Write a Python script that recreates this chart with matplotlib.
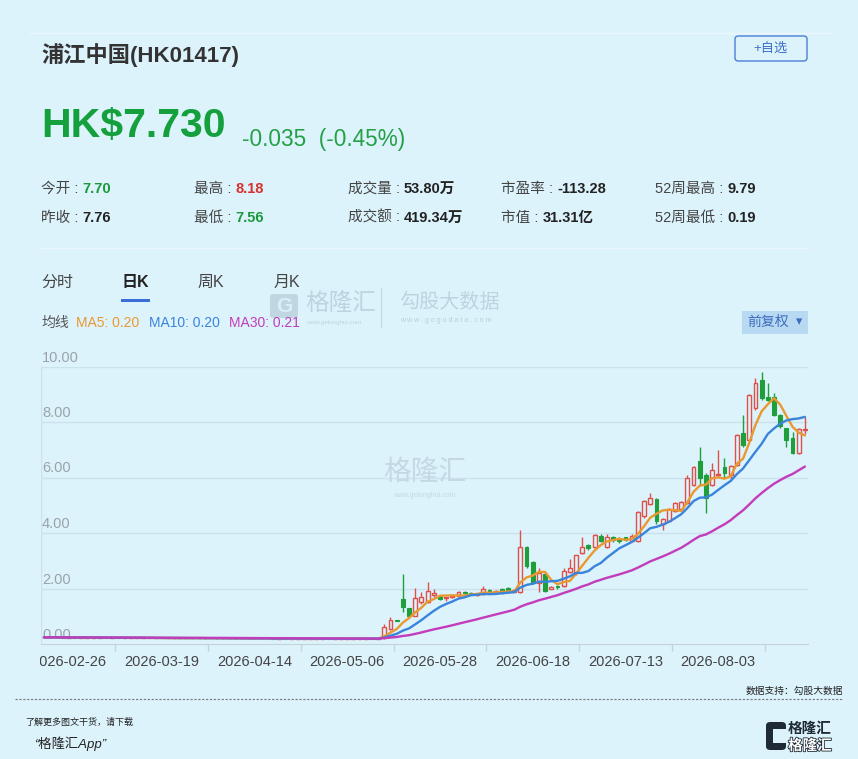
import matplotlib
matplotlib.use("Agg")
import matplotlib.pyplot as plt
from matplotlib.patches import FancyBboxPatch, Rectangle
from matplotlib.lines import Line2D
from matplotlib.transforms import Bbox, blended_transform_factory
import matplotlib.patheffects as pe
import numpy as np
import pandas as pd

plt.rcParams['font.family'] = ['Liberation Sans', 'Noto Sans CJK SC', 'DejaVu Sans']

# ---- data (daily candles) ----
open_ = [0.24, 0.24, 0.24, 0.24, 0.23, 0.24, 0.23, 0.23, 0.23, 0.23,
         0.23, 0.22, 0.23, 0.22, 0.22, 0.22, 0.22, 0.22, 0.21, 0.22,
         0.21, 0.21, 0.21, 0.21, 0.21, 0.21, 0.21, 0.20, 0.21, 0.20,
         0.20, 0.20, 0.20, 0.20, 0.20, 0.20, 0.20, 0.20, 0.19, 0.20,
         0.19, 0.19, 0.19, 0.19, 0.19, 0.19, 0.20, 0.19, 0.19, 0.19,
         0.19, 0.19, 0.19, 0.20, 0.19,
         0.26, 0.53, 0.84, 1.61, 1.29, 1.01, 1.50, 1.52, 1.75, 1.72,
         1.65, 1.68, 1.72, 1.88, 1.84, 1.76, 1.80, 1.94, 1.82, 1.98,
         2.02, 1.88, 1.88, 3.50, 2.97, 2.19, 2.52, 2.00, 2.10, 2.08,
         2.58, 2.55, 3.28, 3.58, 3.50, 3.90, 3.48, 3.86, 3.80, 3.84,
         3.72, 3.71, 4.60, 5.05, 5.22, 4.32, 4.45, 4.78, 4.86, 5.07,
         5.72, 6.59, 6.09, 5.72, 6.10, 6.39, 6.10, 6.45, 7.59, 7.35,
         8.50, 9.50, 8.90, 8.90, 8.25, 7.77, 7.44, 6.88, 7.70]
high_ = [0.25, 0.25, 0.25, 0.25, 0.24, 0.25, 0.24, 0.24, 0.24, 0.24,
         0.24, 0.23, 0.24, 0.23, 0.23, 0.23, 0.23, 0.23, 0.22, 0.23,
         0.22, 0.22, 0.22, 0.22, 0.22, 0.22, 0.22, 0.21, 0.22, 0.21,
         0.21, 0.21, 0.21, 0.21, 0.21, 0.21, 0.21, 0.21, 0.20, 0.21,
         0.20, 0.20, 0.20, 0.20, 0.20, 0.21, 0.20, 0.20, 0.20, 0.20,
         0.20, 0.20, 0.21, 0.20, 0.20,
         0.72, 0.96, 0.86, 2.51, 1.30, 2.01, 1.88, 2.25, 1.98, 1.75,
         1.70, 1.76, 1.90, 1.90, 1.86, 1.83, 2.10, 1.97, 1.93, 2.02,
         2.05, 1.98, 4.11, 3.52, 3.00, 2.73, 2.60, 2.08, 2.12, 2.75,
         3.05, 3.22, 3.87, 3.60, 3.95, 3.95, 3.95, 3.90, 3.84, 3.86,
         3.95, 4.78, 5.20, 5.43, 5.25, 4.55, 4.90, 5.12, 5.15, 6.08,
         6.42, 7.11, 6.15, 6.51, 6.99, 6.69, 6.45, 7.55, 8.25, 9.00,
         9.57, 9.79, 9.39, 9.05, 8.30, 7.80, 7.65, 7.78, 8.18]
low_ = [0.23, 0.23, 0.23, 0.22, 0.23, 0.22, 0.22, 0.22, 0.22, 0.22,
        0.21, 0.22, 0.21, 0.21, 0.21, 0.21, 0.21, 0.20, 0.21, 0.20,
        0.20, 0.20, 0.20, 0.20, 0.20, 0.20, 0.19, 0.20, 0.19, 0.19,
        0.19, 0.19, 0.19, 0.19, 0.19, 0.19, 0.19, 0.18, 0.19, 0.18,
        0.18, 0.18, 0.18, 0.18, 0.18, 0.19, 0.18, 0.18, 0.18, 0.18,
        0.18, 0.18, 0.19, 0.18, 0.18,
        0.19, 0.50, 0.82, 1.16, 0.98, 1.00, 1.45, 1.48, 1.70, 1.58,
        1.55, 1.64, 1.70, 1.80, 1.75, 1.72, 1.78, 1.80, 1.80, 1.80,
        1.85, 1.86, 1.85, 2.75, 2.15, 1.88, 1.88, 1.98, 2.00, 2.05,
        2.55, 2.50, 3.25, 3.38, 3.40, 3.68, 3.45, 3.68, 3.65, 3.70,
        3.70, 3.68, 4.55, 5.00, 4.34, 4.12, 4.40, 4.75, 4.84, 5.05,
        5.70, 5.73, 4.71, 5.68, 6.05, 5.98, 5.90, 6.40, 7.10, 7.30,
        8.45, 8.80, 8.75, 8.20, 7.80, 7.11, 6.85, 6.85, 7.56]
close_ = [0.24, 0.24, 0.24, 0.23, 0.24, 0.23, 0.23, 0.23, 0.23, 0.23,
          0.22, 0.23, 0.22, 0.22, 0.22, 0.22, 0.22, 0.21, 0.22, 0.21,
          0.21, 0.21, 0.21, 0.21, 0.21, 0.21, 0.20, 0.21, 0.20, 0.20,
          0.20, 0.20, 0.20, 0.20, 0.20, 0.20, 0.20, 0.19, 0.20, 0.19,
          0.19, 0.19, 0.19, 0.19, 0.19, 0.20, 0.19, 0.19, 0.19, 0.19,
          0.19, 0.19, 0.20, 0.19, 0.19,
          0.62, 0.86, 0.83, 1.35, 1.01, 1.65, 1.70, 1.91, 1.82, 1.62,
          1.68, 1.74, 1.87, 1.83, 1.78, 1.80, 1.98, 1.84, 1.90, 1.86,
          1.88, 1.95, 3.50, 2.80, 2.21, 2.55, 1.92, 2.05, 2.04, 2.62,
          2.74, 3.20, 3.50, 3.47, 3.93, 3.72, 3.87, 3.74, 3.70, 3.74,
          3.88, 4.75, 5.15, 5.25, 4.42, 4.50, 4.86, 5.08, 5.13, 5.97,
          6.39, 5.97, 5.26, 6.27, 6.14, 6.15, 6.40, 7.53, 7.17, 8.97,
          9.39, 8.86, 8.80, 8.26, 7.84, 7.35, 6.88, 7.76, 7.73]

date_idx = [4, 19, 34, 49, 64, 79, 94, 109]
date_labels = ['2026-02-26', '2026-03-19', '2026-04-14', '2026-05-06',
               '2026-05-28', '2026-06-18', '2026-07-13', '2026-08-03']
ytick_vals = [0, 2, 4, 6, 8, 10]

ma_windows = [5, 10, 30]
ma_legend_vals = ['0.20', '0.20', '0.21']

stats_row1 = [('今开', '7.70', '#1a9a3a'), ('最高', '8.18', '#d9302c'),
              ('成交量', '53.80万', '#222222'), ('市盈率', '-113.28', '#222222'),
              ('52周最高', '9.79', '#222222')]
stats_row2 = [('昨收', '7.76', '#222222'), ('最低', '7.56', '#1a9a3a'),
              ('成交额', '419.34万', '#222222'), ('市值', '31.31亿', '#222222'),
              ('52周最低', '0.19', '#222222')]

# ---- style ----
BG = '#dcf3fc'
RED = '#e0504a'
GREEN = '#1f9e3c'
MA_COLORS = ['#e8992f', '#3a84dc', '#c23cbc']
GRID = '#cbe2ed'

W, H = 858, 759
fig = plt.figure(figsize=(W / 100, H / 100), dpi=100)
fig.patch.set_facecolor(BG)


def fx(px):
    return px / W


def fy(py):
    return 1 - py / H


# ---- header ----
fig.add_artist(Line2D([fx(30), fx(832)], [fy(33), fy(33)], color='#eaf7fd', lw=1))
fig.text(fx(41), fy(62), '浦江中国(HK01417)', fontsize=16, fontweight='bold', color='#333333', va='baseline')
btn = FancyBboxPatch((fx(735), fy(61)), fx(72), 25 / H, boxstyle='round,pad=0,rounding_size=0.004',
                     transform=fig.transFigure, facecolor='none', edgecolor='#4a7fd6', lw=1)
fig.add_artist(btn)
fig.text(fx(771), fy(49), '+自选', fontsize=9.5, color='#3e6fc8', ha='center', va='center')

fig.text(fx(41), fy(137), 'HK$7.730', fontsize=29.5, fontweight='bold', color='#14a03c', va='baseline')
fig.text(fx(242), fy(146), '-0.035  (-0.45%)', fontsize=16.3, color='#24a046', va='baseline')

renderer = fig.canvas.get_renderer()
col_x = [41, 194, 348, 501, 655]
for row, base in ((stats_row1, 193), (stats_row2, 222)):
    for (lab, val, vc), cx in zip(row, col_x):
        t = fig.text(fx(cx), fy(base), lab + ' :', fontsize=10.5, color='#444444', va='baseline')
        bb = t.get_window_extent(renderer=renderer)
        fig.text(fx(bb.x1 + 4), fy(base), val, fontsize=10.5, fontweight='bold', color=vc, va='baseline')

fig.add_artist(Line2D([fx(40), fx(808)], [fy(248), fy(248)], color='#eaf7fd', lw=1))

# tabs
fig.text(fx(41), fy(287), '分时', fontsize=11.5, color='#444444', va='baseline')
fig.text(fx(121), fy(287), '日K', fontsize=11.5, fontweight='bold', color='#222222', va='baseline')
fig.text(fx(197), fy(287), '周K', fontsize=11.5, color='#444444', va='baseline')
fig.text(fx(274), fy(287), '月K', fontsize=11.5, color='#444444', va='baseline')
fig.add_artist(Rectangle((fx(121), fy(302)), fx(29), 3 / H, transform=fig.transFigure,
                         facecolor='#3b6fd8', edgecolor='none'))

# watermark (header)
wm = '#a9c0ce'
fig.add_artist(FancyBboxPatch((fx(270), fy(318)), fx(28), 24 / H, boxstyle='round,pad=0,rounding_size=0.004',
                              transform=fig.transFigure, facecolor=wm, edgecolor='none', alpha=0.55))
fig.text(fx(284), fy(306), 'G', fontsize=15, fontweight='bold', color=BG, ha='center', va='center', alpha=0.9)
fig.text(fx(305), fy(304), '格隆汇', fontsize=17, color=wm, va='center', alpha=0.6)
fig.text(fx(306), fy(322), 'www.gelonghui.com', fontsize=4.5, color=wm, va='center', alpha=0.6)
fig.add_artist(Line2D([fx(381), fx(381)], [fy(288), fy(327)], color=wm, lw=0.8, alpha=0.5))
fig.text(fx(399), fy(302), '勾股大数据', fontsize=14.5, color=wm, va='center', alpha=0.6)
fig.text(fx(400), fy(321), 'w w w . g o g u d a t a . c o m', fontsize=5, color=wm, va='center', alpha=0.7)

# MA legend
fig.text(fx(41), fy(327), '均线', fontsize=10, color='#555555', va='baseline')
for lx, w, v, col in zip([76, 149, 229], ma_windows, ma_legend_vals, MA_COLORS):
    fig.text(fx(lx), fy(327), f'MA{w}: {v}', fontsize=10, color=col, va='baseline')

fig.add_artist(Rectangle((fx(742), fy(334)), fx(66), 23 / H, transform=fig.transFigure,
                         facecolor='#b7d9f2', edgecolor='none'))
fig.text(fx(768), fy(322), '前复权', fontsize=10, color='#3d6cc0', ha='center', va='center')
fig.text(fx(799), fy(322), '▾', fontsize=9, color='#3d6cc0', ha='center', va='center', family='DejaVu Sans')

# ---- kline chart ----
ax = fig.add_axes([fx(41), fy(644), fx(808 - 41), (644 - 366.5) / H])
ax.set_facecolor('none')
n = len(close_)
x = np.arange(n)
o = np.array(open_)
c = np.array(close_)
hi = np.array(high_)
lo = np.array(low_)
ax.set_xlim(-0.5, n - 0.5)
ax.set_ylim(0, 10)

for v in ytick_vals[1:]:
    ax.axhline(v, color=GRID, lw=1, zorder=0)
ax.axvline(-0.5, color=GRID, lw=1, zorder=0)

ylab_tr = blended_transform_factory(ax.transAxes, ax.transData)
for v in ytick_vals:
    ax.annotate(f'{v:.2f}', xy=(0, v), xycoords=ylab_tr, xytext=(1, 2), textcoords='offset pixels',
                fontsize=10.5, color='#9aa3aa', va='bottom', ha='left', zorder=0.5)

# watermark (chart)
ax.text(0.5, 0.615, '格隆汇', transform=ax.transAxes, fontsize=20, color='#c3d8e3', ha='center', va='center', zorder=0.5)
ax.text(0.5, 0.535, 'www.gelonghui.com', transform=ax.transAxes, fontsize=5, color='#c3d8e3', ha='center',
        va='center', zorder=0.5)

up = c >= o
body_lo = np.minimum(o, c)
body_hi = np.maximum(o, c)
body_h = np.maximum(body_hi - body_lo, 0.02)
cols = np.where(up, RED, GREEN)
ax.vlines(x, body_hi, hi, colors=cols, lw=1, zorder=2)
ax.vlines(x, lo, body_lo, colors=cols, lw=1, zorder=2)
ax.bar(x[up], body_h[up], bottom=body_lo[up], width=0.62, facecolor=BG, edgecolor=RED, lw=1, zorder=2)
ax.bar(x[~up], body_h[~up], bottom=body_lo[~up], width=0.62, facecolor=GREEN, edgecolor=GREEN, lw=0.8, zorder=2)

close_s = pd.Series(c)
for w, col in zip(ma_windows, MA_COLORS):
    ax.plot(x, close_s.rolling(w, min_periods=1).mean(), color=col, lw=1.7, zorder=3,
            solid_capstyle='round')

for s in ['top', 'right', 'left']:
    ax.spines[s].set_visible(False)
ax.spines['bottom'].set_color('#c5d2da')
ax.set_yticks([])
ax.set_xticks(date_idx)
ax.set_xticklabels(date_labels, fontsize=10.5, color='#444444')
ax.tick_params(axis='x', which='major', length=0, pad=8)
ax.set_xticks(np.arange(11.5, n, 15), minor=True)
ax.tick_params(axis='x', which='minor', length=5, color='#c5d2da', width=1)

clip = Bbox.from_extents(40, 0, W, H)
for lab in ax.get_xticklabels():
    lab.set_clip_box(clip)
    lab.set_clip_on(True)

# ---- footer ----
fig.text(fx(843), fy(694), '数据支持：勾股大数据', fontsize=7, color='#222222', ha='right', va='baseline')
fig.add_artist(Line2D([fx(15), fx(843)], [fy(699), fy(699)], color='#777777', lw=0.8, ls=(0, (2, 1.5))))
fig.text(fx(25), fy(725), '了解更多图文干货，请下载', fontsize=6.5, color='#222222', style='italic', va='baseline')
fig.text(fx(34), fy(748), '“格隆汇App”', fontsize=9.5, color='#222222', style='italic', va='baseline')

fig.add_artist(FancyBboxPatch((fx(766), fy(750)), fx(20), 28 / H, boxstyle='round,pad=0,rounding_size=0.005',
                              transform=fig.transFigure, facecolor='#1e2a36', edgecolor='none'))
fig.add_artist(Rectangle((fx(773), fy(743)), fx(13), 14 / H, transform=fig.transFigure,
                         facecolor=BG, edgecolor='none'))
fig.text(fx(788), fy(733), '格隆汇', fontsize=10.5, fontweight='bold', color='#1e2a36', va='baseline')
fig.text(fx(788), fy(750), '格隆汇', fontsize=10.5, fontweight='bold', color='white', va='baseline',
         path_effects=[pe.withStroke(linewidth=1.2, foreground='#1e2a36')])

fig.savefig('out.png', dpi=100, facecolor=BG)
